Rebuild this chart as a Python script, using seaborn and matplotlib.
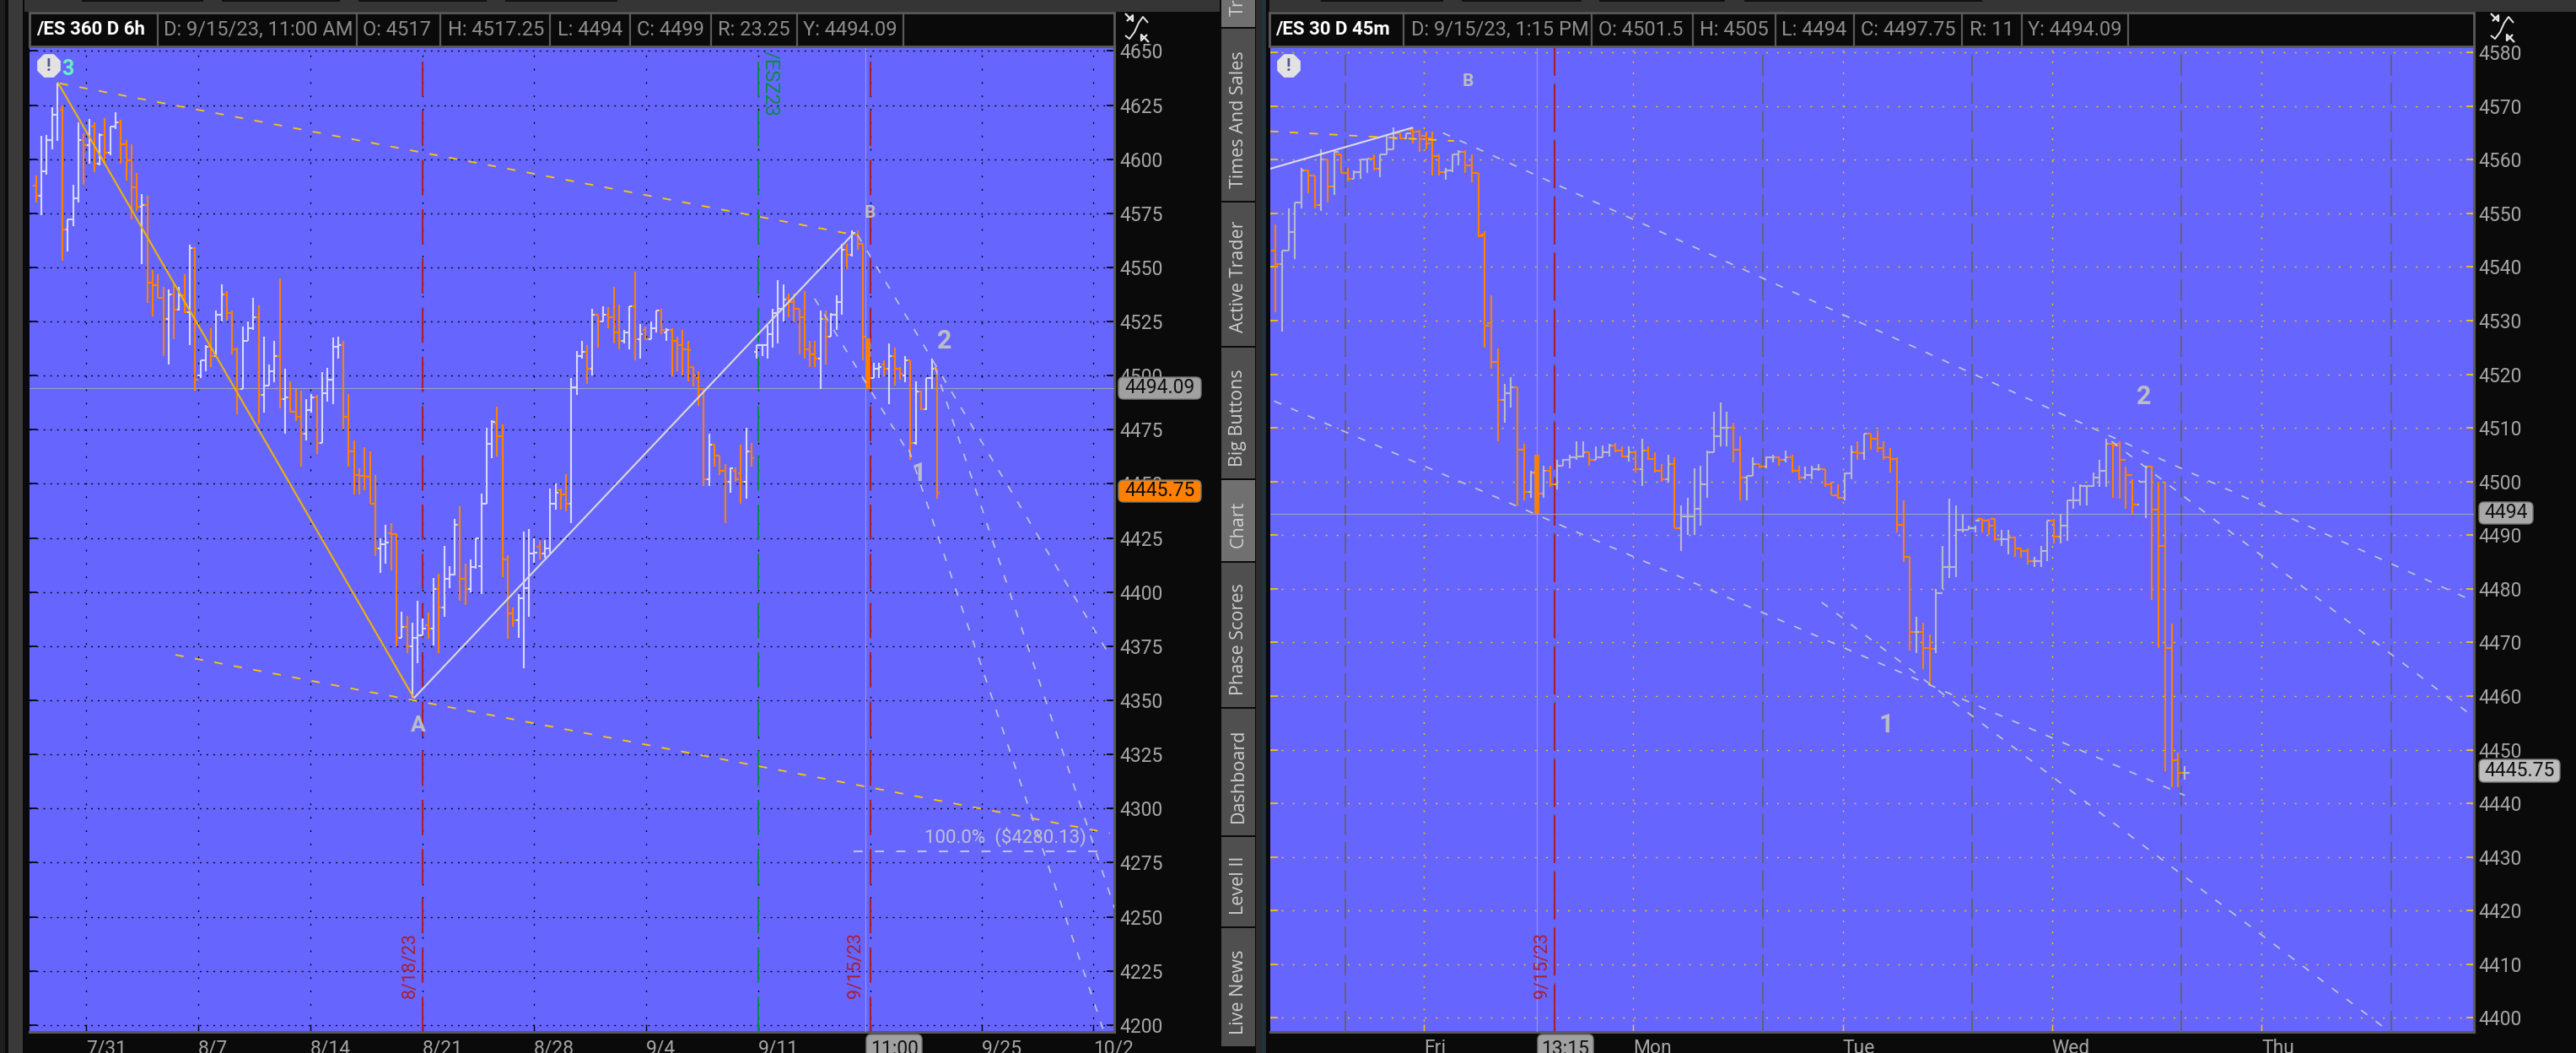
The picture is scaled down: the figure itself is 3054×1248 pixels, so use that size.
# -*- coding: utf-8 -*-
"""
Two /ES futures bar charts side by side (6h and 45m), thinkorswim dark layout.
"""
import matplotlib
matplotlib.use("Agg")
import matplotlib.pyplot as plt
from matplotlib.patches import Rectangle, FancyBboxPatch, RegularPolygon
import pandas as pd
import seaborn as sns

W, H = 3054, 1248
BLUE = "#6666ff"
BLACK = "#0a0a0a"
CHROME = "#353535"
ORANGE = "#ff8000"
GRAY_TXT = "#a6a6a6"
LABEL_GRAY = "#bcbcc4"
RED = "#a81e32"
GREEN = "#0c8a4a"
YELLOW = "#ffc800"

# ========== left chart: /ES 360 D 6h ==========
L_OPEN = [
    4587.75, 4583, 4594.5, 4609, 4620.5, 4623, 4567.5, 4572, 4582, 4609,
    4606.5, 4615, 4597.75, 4611, 4603, 4615, 4617, 4607, 4599.5, 4587,
    4578, 4579, 4543, 4541.75, 4536, 4526, 4537.5, 4530.5, 4537, 4529.25,
    4559, 4500, 4507, 4513.5, 4509, 4528, 4537.5, 4529, 4512, 4494,
    4516, 4522, 4527, 4491, 4495.5, 4502, 4509, 4489, 4490, 4483.5,
    4481, 4473, 4484, 4490, 4469, 4492, 4498, 4513.5, 4514, 4481,
    4465, 4454, 4453.5, 4453.25, 4441, 4420, 4422, 4427, 4426.75, 4379,
    4384, 4375, 4379, 4380, 4384.5, 4383, 4401.5, 4393, 4406, 4408,
    4431, 4406, 4401.5, 4411.5, 4412, 4441, 4468.5, 4478, 4472, 4415,
    4390, 4387, 4397, 4402, 4418, 4421, 4418, 4420, 4440.75, 4447,
    4445, 4441, 4494.75, 4509, 4511, 4503, 4528, 4525, 4528, 4527,
    4520, 4516, 4520, 4532, 4517, 4521, 4517, 4522, 4530, 4520,
    4521, 4516, 4514, 4512, 4504, 4499, 4494, 4452, 4468, 4463,
    4456, 4451, 4456, 4455, 4451, 4465, 4511, 4514, 4514, 4519,
    4529, 4531, 4536, 4534, 4531, 4527, 4512, 4510, 4508, 4526,
    4518, 4528, 4534, 4558, 4556, 4565, 4561, 4517, 4499, 4503,
    4505, 4503, 4509, 4503, 4500, 4507, 4469, 4492.5, 4484.5, 4499,
    4503,
]
L_HIGH = [
    4592.5, 4610.75, 4611, 4624, 4635.5, 4625, 4572, 4588, 4617, 4612,
    4618.5, 4617, 4612, 4619, 4615, 4621.5, 4618, 4609, 4607, 4593.5,
    4584, 4583, 4548.75, 4547, 4541, 4540, 4543, 4541, 4547, 4560.5,
    4559.5, 4507, 4514, 4522, 4530, 4542, 4539, 4530, 4513, 4522.5,
    4525, 4536, 4532.5, 4518, 4505, 4516, 4545, 4503, 4497.5, 4494,
    4493, 4489, 4491.5, 4491, 4501.5, 4503.5, 4517.5, 4518, 4516, 4491.5,
    4470, 4457, 4467, 4465, 4454, 4425, 4431, 4432, 4427, 4391,
    4389, 4386, 4396, 4388, 4390.5, 4406.5, 4408.5, 4421.5, 4412, 4434,
    4439.5, 4413, 4415, 4425, 4445.5, 4476, 4479.5, 4485.75, 4477.5, 4417,
    4393, 4399, 4428, 4429, 4425, 4423.5, 4424, 4448, 4450, 4448,
    4454.5, 4499, 4511.5, 4516, 4514, 4531, 4528.25, 4532, 4531.5, 4541,
    4533, 4521, 4532, 4548, 4524, 4522.5, 4525, 4530, 4531, 4522,
    4522, 4518, 4521, 4516, 4504, 4502, 4494, 4473, 4468, 4463,
    4459, 4457.5, 4457.5, 4468, 4476, 4469, 4514, 4514, 4523, 4531,
    4544, 4542, 4538, 4538, 4531, 4539, 4516, 4516, 4530, 4530,
    4529, 4537, 4561, 4561, 4567, 4567, 4561, 4517.25, 4506, 4506,
    4507, 4515, 4513, 4504, 4509, 4507, 4497.5, 4493, 4499, 4508,
    4503,
]
L_LOW = [
    4580, 4574, 4593, 4604.5, 4608.5, 4553, 4557.5, 4569, 4580, 4588,
    4598, 4594, 4597, 4598, 4602, 4614, 4598, 4590, 4572, 4576,
    4551.5, 4533.5, 4527.5, 4536, 4509, 4505, 4517, 4530, 4529, 4514,
    4493, 4499, 4502, 4504, 4508.5, 4525, 4525.5, 4510, 4482, 4494,
    4516, 4521, 4478, 4483, 4495.5, 4497, 4485, 4473, 4483, 4479,
    4458, 4470, 4483, 4464, 4469, 4488, 4487, 4508, 4475, 4458,
    4445, 4445, 4447, 4441, 4416.75, 4409, 4413, 4410, 4375, 4379,
    4372, 4351, 4367, 4380, 4378.5, 4375.5, 4372, 4388.75, 4402, 4407.5,
    4396, 4394, 4400, 4411, 4399, 4441, 4462, 4462.5, 4406.75, 4378.5,
    4384, 4379, 4365, 4388.5, 4413.5, 4415, 4416, 4418, 4438, 4438,
    4437.5, 4432, 4491, 4508, 4496, 4500, 4513, 4525, 4522, 4515,
    4512, 4515, 4512, 4507, 4508, 4516.5, 4517, 4520, 4519, 4516,
    4499.5, 4502, 4500, 4497.5, 4495, 4486, 4449, 4449, 4458, 4454,
    4432, 4446, 4451, 4441, 4443, 4458, 4508, 4509, 4508, 4513,
    4515, 4525, 4527, 4525, 4510, 4508, 4504, 4504, 4494, 4505,
    4518, 4521, 4528, 4549, 4555, 4558, 4507, 4494, 4499, 4499,
    4499.5, 4487, 4495.5, 4498, 4497, 4461, 4468, 4484, 4484, 4494,
    4443,
]
L_CLOSE = [
    4583, 4594.5, 4609, 4620.5, 4634, 4567.5, 4572, 4582, 4609, 4606.5,
    4609, 4597.75, 4611, 4603, 4615, 4617, 4607, 4599.5, 4587, 4578,
    4579, 4543, 4541.75, 4536, 4526, 4537.5, 4530.5, 4537, 4529.25, 4559,
    4498, 4507, 4513.5, 4509, 4528, 4537.5, 4529, 4512, 4494, 4516,
    4522, 4527, 4491, 4495.5, 4502, 4509, 4489, 4490, 4483.5, 4481,
    4473, 4484, 4490, 4469, 4492, 4498, 4513.5, 4514, 4481, 4465,
    4454, 4453.5, 4453.25, 4441, 4420, 4422, 4423, 4426.75, 4379, 4384,
    4375, 4379, 4380, 4383, 4383, 4401.5, 4393, 4406, 4408, 4431,
    4406, 4401.5, 4411.5, 4425, 4441, 4468.5, 4478.5, 4472, 4415, 4390,
    4387, 4397, 4402, 4418, 4418.25, 4418, 4420, 4440.75, 4446, 4445,
    4441, 4494.75, 4509, 4511, 4503, 4528, 4525, 4528, 4527, 4520,
    4516, 4520, 4532, 4517, 4519, 4517, 4522, 4530, 4521, 4521,
    4516, 4514, 4512, 4511.75, 4500, 4494, 4452, 4468, 4463, 4456,
    4451, 4457, 4452, 4451, 4465, 4462, 4514, 4514, 4519, 4529,
    4531, 4535, 4534, 4531, 4527, 4512, 4510, 4508, 4526, 4518,
    4528, 4534, 4558, 4556, 4566, 4561, 4518, 4499, 4503, 4504,
    4503, 4509, 4503, 4501, 4507, 4469, 4492.5, 4484.5, 4499, 4503,
    4445.75,
]
L_SELECTED = 157

L_Y_TICKS = [4200, 4225, 4250, 4275, 4300, 4325, 4350, 4375, 4400, 4425,
             4450, 4475, 4500, 4525, 4550, 4575, 4600, 4625, 4650]
L_X_TICKS = [9.44, 30.56, 51.8, 72.9, 93.9, 115.1, 136.2, 157.5, 178.5, 199.5]
L_X_LABELS = ["7/31", "8/7", "8/14", "8/21", "8/28", "9/4", "9/11", "", "9/25", "10/2"]

# swing points and channel lines, (bar, price) pairs
L_SWING_DOWN_X, L_SWING_DOWN_Y = [4.1, 71.3], [4635.5, 4351]
L_SWING_UP_X, L_SWING_UP_Y = [71.3, 154.2], [4351, 4565.6]
L_UPPER_X, L_UPPER_Y = [4.5, 154.5], [4635, 4565]
L_LOWER_X, L_LOWER_Y = [26.3, 202.6], [4371, 4288.6]
L_FANS_X = [[155, 202.5], [146.9, 165.1], [164.7, 201.4], [169.6, 203.5]]
L_FANS_Y = [[4565, 4371], [4535.6, 4462.4], [4465.8, 4197.5], [4504, 4254]]
L_TARGET_X, L_TARGET_Y = [154.3, 201.7], [4280.13, 4280.13]

# ========== right chart: /ES 30 D 45m ==========
R_OPEN = [
    4543, 4540.5, 4543, 4546.5, 4552, 4558, 4557, 4551.5, 4560, 4555,
    4561, 4557.5, 4556.5, 4557.75, 4560, 4560.25, 4558.25, 4561, 4562, 4565,
    4564, 4565.5, 4565.25, 4564.5, 4564, 4560.75, 4557.75, 4558, 4561, 4561.5,
    4559, 4557.5, 4546, 4529.5, 4522.25, 4515.25, 4516.5, 4517.5, 4506, 4498,
    4501.5, 4497.75, 4502, 4499.5, 4503, 4504, 4504.5, 4504.75, 4505.5, 4504,
    4504.5, 4505.5, 4506.75, 4505.75, 4504.75, 4505.5, 4502.25, 4505.75, 4504.25, 4502,
    4500.5, 4503.25, 4491.25, 4493.5, 4493.5, 4495, 4499.5, 4505.5, 4508.5, 4510,
    4510, 4506, 4500.75, 4501, 4503.25, 4502.75, 4504.5, 4504.5, 4504, 4504.5,
    4502, 4500.75, 4501.25, 4502.25, 4502.25, 4499.5, 4497.5, 4497, 4501.5, 4505.5,
    4505.25, 4509, 4508, 4506.25, 4504.5, 4504.25, 4492, 4486, 4472, 4472,
    4469, 4468.75, 4479.25, 4484, 4484, 4491, 4491, 4491.25, 4493, 4492.75,
    4493, 4489.25, 4489.25, 4489.5, 4487.5, 4487, 4485.25, 4485.25, 4487, 4492.75,
    4489.75, 4491.75, 4496.5, 4496.5, 4499.25, 4499.25, 4500.75, 4502, 4507, 4507,
    4504, 4501.25, 4495.75, 4500, 4502.75, 4494.75, 4488, 4469, 4448, 4445.75,
]
R_HIGH = [
    4548, 4543, 4551, 4552, 4558.5, 4558, 4557, 4562, 4560, 4562,
    4561, 4558.5, 4558, 4560, 4560.25, 4561, 4561, 4564.5, 4566, 4565,
    4565, 4566, 4565.5, 4565.25, 4565.25, 4561, 4558.5, 4561, 4561.75, 4561.75,
    4561, 4557.5, 4546.75, 4534.75, 4524.75, 4518.25, 4519.5, 4517.5, 4507, 4502,
    4505, 4503, 4503, 4504, 4504.25, 4505, 4507.5, 4507.5, 4505.5, 4506.5,
    4506.75, 4507, 4507.25, 4506.5, 4506.5, 4505.75, 4508, 4506.5, 4505.5, 4503.25,
    4505, 4504.5, 4495.5, 4497, 4502.5, 4503, 4505.75, 4513, 4514.75, 4513,
    4511, 4508.5, 4501, 4504.5, 4503.25, 4504.75, 4505, 4504.75, 4505.75, 4505,
    4503, 4502.75, 4503, 4503.25, 4502.25, 4500, 4499.5, 4501.75, 4506.75, 4507.5,
    4509, 4509, 4509.5, 4507.5, 4506.25, 4504.5, 4496.5, 4486, 4474.75, 4473.75,
    4471.5, 4480, 4488, 4496.75, 4495.5, 4494, 4491.75, 4491.75, 4493, 4493,
    4493, 4491, 4491, 4489.75, 4487.5, 4487.5, 4486, 4488, 4492.75, 4493,
    4494, 4496.5, 4499, 4499.5, 4499.25, 4501.75, 4504, 4508, 4507.5, 4507.5,
    4502.75, 4500.5, 4500.25, 4503, 4503, 4500, 4500, 4473.5, 4449.5, 4447,
]
R_LOW = [
    4531.5, 4528, 4543, 4541.5, 4551, 4553.75, 4551, 4550.5, 4552, 4553.5,
    4557.5, 4556, 4556.5, 4556.5, 4557.5, 4558, 4556.75, 4561, 4562, 4564,
    4563.75, 4563, 4561.5, 4562, 4557, 4557, 4556.25, 4557.75, 4559, 4557.5,
    4555.75, 4545.5, 4525, 4521, 4507.5, 4511, 4513.75, 4495.5, 4496.5, 4497,
    4494, 4497, 4499, 4498.5, 4503, 4502.5, 4504, 4504.5, 4503, 4504,
    4504.5, 4504.75, 4505.5, 4504.5, 4503.75, 4501.75, 4499.25, 4504, 4501.75, 4500,
    4500, 4491.25, 4487, 4490, 4490, 4491.75, 4497, 4505.5, 4506.5, 4506.5,
    4503.5, 4496.5, 4496.5, 4501, 4502.5, 4502.5, 4503.5, 4503, 4503.5, 4501.75,
    4500.25, 4500.5, 4500.5, 4502, 4499, 4497.5, 4496.75, 4496.5, 4500.5, 4504,
    4504, 4506, 4505.5, 4504, 4501.75, 4490.5, 4485, 4468.5, 4468, 4465,
    4462, 4468, 4480, 4482, 4482.25, 4490.5, 4491, 4490.5, 4490.5, 4490,
    4489, 4488, 4486.5, 4486, 4485.75, 4484.5, 4484, 4484, 4485.25, 4488.5,
    4488.5, 4489, 4495, 4495.5, 4495.5, 4499, 4499, 4499, 4497, 4496.75,
    4495, 4494, 4500, 4493.25, 4478, 4469, 4446, 4443, 4443, 4444.5,
]
R_CLOSE = [
    4540.5, 4543, 4546.5, 4552, 4558, 4557, 4551.5, 4560, 4555, 4561.5,
    4557.5, 4556.5, 4557.75, 4560, 4560.25, 4558.25, 4561, 4562, 4564, 4564,
    4565, 4565.25, 4563.75, 4563, 4560.75, 4557.75, 4558, 4561, 4561.5, 4559,
    4557.5, 4545.75, 4529, 4522.25, 4515.25, 4516.5, 4517.5, 4506, 4498, 4501.75,
    4497.75, 4502, 4499.5, 4503, 4504, 4504.5, 4504.75, 4505.5, 4504, 4504.5,
    4505.5, 4506.75, 4505.75, 4504.75, 4505.5, 4502.25, 4505.75, 4504.25, 4502, 4500.5,
    4503.25, 4491.25, 4493.5, 4493.5, 4495, 4499.5, 4505.5, 4508.5, 4510, 4510,
    4506, 4500.75, 4501, 4503.25, 4502.75, 4504.5, 4504.5, 4504, 4504.5, 4502,
    4500.75, 4501.25, 4502.25, 4502.25, 4499.5, 4497.5, 4497, 4501.5, 4505.5, 4505.25,
    4509, 4508, 4506.25, 4504.5, 4504.25, 4492, 4486, 4472, 4472, 4469,
    4468.75, 4479.25, 4484, 4484, 4491, 4491, 4491.25, 4492.75, 4492.75, 4491.75,
    4489.25, 4489.25, 4489.5, 4487.5, 4487, 4485.25, 4485.25, 4487, 4492.75, 4489.75,
    4491.75, 4496.5, 4496.5, 4499.25, 4499.25, 4500.75, 4502, 4507, 4506.75, 4504,
    4501.25, 4495.75, 4500, 4502.75, 4494.75, 4488, 4469, 4448, 4445.75, 4445.75,
]
R_SELECTED = 40

R_Y_TICKS = list(range(4400, 4581, 10))
R_X_TICKS = [22.67, 54.7, 86.7, 118.7, 150.7]
R_X_LABELS = ["Fri", "Mon", "Tue", "Wed", "Thu"]
R_SESSIONS = [10.68, 74.5, 106.5, 138.5, 170.5]

R_SWING_X, R_SWING_Y = [-0.85, 21], [4558.3, 4566]
R_UPPER_X, R_UPPER_Y = [-0.85, 27.3], [4565.3, 4563.5]
R_FANS_X = [[25.6, 182.6], [127.8, 182.2], [-0.2, 139], [83.5, 169.7]]
R_FANS_Y = [[4565, 4478], [4507.5, 4457], [4515, 4441.5], [4477.5, 4398]]

# last price / study line
STUDY_Y = 4494.09


def px_axes(fig, left, top, right, bottom):
    return fig.add_axes([left / W, 1 - bottom / H, (right - left) / W, (bottom - top) / H])


def ohlc_frame(opens, highs, lows, closes, half):
    rows = []
    for i in range(len(opens)):
        kind = "up" if closes[i] >= opens[i] else "down"
        rows.append((3 * i, i, highs[i], kind))
        rows.append((3 * i, i, lows[i], kind))
        rows.append((3 * i + 1, i - half, opens[i], kind))
        rows.append((3 * i + 1, i, opens[i], kind))
        rows.append((3 * i + 2, i, closes[i], kind))
        rows.append((3 * i + 2, i + half, closes[i], kind))
    return pd.DataFrame(rows, columns=["unit", "x", "price", "kind"])


def draw_bars(ax, opens, highs, lows, closes, selected, up_color, half):
    frame = ohlc_frame(opens, highs, lows, closes, half)
    sns.lineplot(data=frame, x="x", y="price", hue="kind", units="unit", estimator=None,
                 sort=False, legend=False, linewidth=1.5, ax=ax, zorder=4,
                 hue_order=["up", "down"], palette={"up": up_color, "down": ORANGE})
    # the bar under the crosshair is drawn heavy
    sns.lineplot(x=[selected, selected], y=[lows[selected], highs[selected]], color=ORANGE,
                 estimator=None, sort=False, linewidth=4, ax=ax, zorder=5)


def draw_trend(ax, xs, ys, color, dashed=True, lw=1.3):
    style = (0, (5.5, 7.5)) if dashed else "-"
    sns.lineplot(x=xs, y=ys, color=color, estimator=None, sort=False,
                 linewidth=lw, linestyle=style, ax=ax, zorder=6)


def style_axes(ax, xlim, ylim, yticks, xticks, xlabels, grid_color, tick_color, v_dash, h_dash):
    ax.set_xlim(*xlim)
    ax.set_ylim(*ylim)
    ax.set_xlabel("")
    ax.set_ylabel("")
    ax.set_facecolor(BLUE)
    ax.set_yticks(yticks)
    ax.set_xticks(xticks)
    ax.set_xticklabels(xlabels, ha="left")
    ax.yaxis.tick_right()
    ax.tick_params(axis="y", which="both", direction="in", length=6.5, width=1.2, left=True,
                   right=True, labelright=True, labelleft=False, colors=GRAY_TXT,
                   color=tick_color, labelsize=16.5, pad=4)
    ax.tick_params(axis="x", direction="in", length=6.5, width=1.0, bottom=True,
                   colors=GRAY_TXT, color=tick_color, labelsize=16.5, pad=6)
    ax.grid(True, axis="x", color=grid_color, linewidth=1.0, linestyle=v_dash)
    ax.grid(True, axis="y", color=grid_color, linewidth=1.0, linestyle=h_dash)
    ax.set_axisbelow(True)
    for side, spine in ax.spines.items():
        spine.set_color("#5a5a5a")
        spine.set_linewidth(2.2)
        spine.set_visible(side in ("right", "bottom"))


def draw_header(ov, left, right, cells, seps, texts):
    ov.add_patch(Rectangle((left, 15), right - left, 40, fc=BLACK, ec="#5a5a5a", lw=2))
    for x in seps:
        ov.plot([x, x], [15, 55], color="#5a5a5a", lw=1.6)
    for i, (x, txt) in enumerate(zip(cells, texts)):
        ov.text(x, 35, txt, color="white" if i == 0 else "#8c8c8c",
                fontsize=16 if i == 0 else 17,
                fontweight="bold" if i == 0 else "normal", va="center", ha="left")


def draw_badge(ov, left, right, top, bottom, txt, fc, size=16.5):
    ov.add_patch(FancyBboxPatch((left + 4, top + 4), right - left - 8, bottom - top - 8,
                                boxstyle="round,pad=4,rounding_size=6", fc=fc, ec="#777777", lw=1))
    ov.text((left + right) / 2, (top + bottom) / 2, txt, color="#101010", fontsize=size,
            ha="center", va="center")


def draw_alert(ov, x, y):
    ov.add_patch(RegularPolygon((x, y), 8, radius=15, orientation=0.39, fc="#e2e2e2", ec="none"))
    ov.text(x, y, "!", color="#55558a", fontsize=15, fontweight="bold", ha="center", va="center")


def draw_sync_icon(ov, x, y):
    curve_x = [x - 14, x - 9, x - 3, x + 2, x + 7, x + 13]
    curve_y = [y + 9, y + 13, y + 5, y - 6, y - 13, y - 6]
    ov.plot(curve_x, curve_y, color="#e6e6e6", lw=1.4)
    ov.plot([x - 14, x - 5, x - 5, x - 12], [y - 17, y - 8, y - 15, y - 8], color="#e6e6e6", lw=1.6)
    ov.plot([x + 14, x + 5, x + 5, x + 12], [y + 17, y + 8, y + 15, y + 8], color="#e6e6e6", lw=1.6)


def draw_chrome(bg):
    bg.add_patch(Rectangle((10, 0), 17, H, fc="#3a3a3a", ec="none"))
    bg.add_patch(Rectangle((0, 0), 6, H, fc="#1e1e1e", ec="none"))
    bg.add_patch(Rectangle((29, 0), 1417, 14, fc=CHROME, ec="none"))
    bg.add_patch(Rectangle((1505, 0), W - 1505, 14, fc=CHROME, ec="none"))
    bg.add_patch(Rectangle((1489, 0), 12, H, fc="#2c2c2c", ec="none"))
    bg.plot([1498, 1498], [0, H], color="#123a4a", lw=1.5)
    for x0, x1 in [(97, 241), (263, 403), (425, 577), (599, 732),
                   (1566, 1711), (1733, 1875), (1896, 2045), (2068, 2350)]:
        bg.add_patch(Rectangle((x0, 0), x1 - x0, 2, fc="#101010", ec="none"))
    tabs = [(0, 32, "#707070"), (34, 238, "#4f4f4f"), (240, 410, "#4f4f4f"),
            (412, 567, "#4f4f4f"), (569, 665, "#707070"), (667, 838, "#4f4f4f"),
            (840, 990, "#4f4f4f"), (992, 1098, "#4f4f4f"), (1100, 1240, "#4f4f4f")]
    for y0, y1, color in tabs:
        bg.add_patch(Rectangle((1448, y0), 40, y1 - y0, fc=color, ec="none"))


def draw_tabs(ov):
    tab_text = [("Tr", 9), ("Times And Sales", 142), ("Active Trader", 328), ("Big Buttons", 495),
                ("Chart", 621), ("Phase Scores", 758), ("Dashboard", 919),
                ("Level II", 1049), ("Live News", 1176)]
    for name, y in tab_text:
        ov.text(1468, y, name, color="#d0d0d0", fontsize=15.5, rotation=90,
                ha="center", va="center", family="Open Sans")


sns.set_theme(style="dark", rc={"lines.solid_capstyle": "butt", "lines.dash_capstyle": "butt",
                                "figure.facecolor": BLACK, "savefig.facecolor": BLACK})
plt.rcParams["font.family"] = ["Roboto", "DejaVu Sans"]

fig = plt.figure(figsize=(W / 100, H / 100), dpi=100)

bg = px_axes(fig, 0, 0, W, H)
bg.set_xlim(0, W)
bg.set_ylim(H, 0)
bg.axis("off")
bg.set_zorder(0)
draw_chrome(bg)

# ========== left panel ==========
ax_l = px_axes(fig, 35, 55, 1321.4, 1223)
ax_l.set_zorder(2)
draw_bars(ax_l, L_OPEN, L_HIGH, L_LOW, L_CLOSE, L_SELECTED, "#d8d8ff", 0.55)
draw_trend(ax_l, L_SWING_DOWN_X, L_SWING_DOWN_Y, "#f0b400", dashed=False, lw=1.5)
draw_trend(ax_l, L_SWING_UP_X, L_SWING_UP_Y, "#d9d9d9", dashed=False, lw=1.5)
draw_trend(ax_l, L_UPPER_X, L_UPPER_Y, YELLOW)
draw_trend(ax_l, L_LOWER_X, L_LOWER_Y, YELLOW)
for fan_x, fan_y in zip(L_FANS_X, L_FANS_Y):
    draw_trend(ax_l, fan_x, fan_y, "#c4c4d0", lw=1.2)
draw_trend(ax_l, L_TARGET_X, L_TARGET_Y, "#c4c4d0", lw=1.4)
ax_l.axvline(72.9, color=RED, lw=1.5, linestyle=(0, (20, 8)), zorder=3)
ax_l.axvline(157.5, color=RED, lw=1.5, linestyle=(0, (20, 8)), zorder=3)
ax_l.axvline(136.2, color=GREEN, lw=1.5, linestyle=(0, (20, 8)), zorder=3)
ax_l.axvline(L_SELECTED - 0.5, color="#9c9ce0", lw=0.7, zorder=3)
ax_l.axhline(STUDY_Y, color="#a5a5c0", lw=0.7, zorder=3)
style_axes(ax_l, (-1.23, 203.5), (4196.8, 4652.1), L_Y_TICKS, L_X_TICKS, L_X_LABELS,
           "#000000", "#000000", (0, (1.4, 10)), (0, (1.4, 4.4)))

# ========== right panel ==========
ax_r = px_axes(fig, 1505.6, 55.8, 2933, 1223)
ax_r.set_zorder(2)
draw_bars(ax_r, R_OPEN, R_HIGH, R_LOW, R_CLOSE, R_SELECTED, "#b9b9c6", 0.7)
draw_trend(ax_r, R_SWING_X, R_SWING_Y, "#dcdce6", dashed=False, lw=1.5)
draw_trend(ax_r, R_UPPER_X, R_UPPER_Y, YELLOW)
for fan_x, fan_y in zip(R_FANS_X, R_FANS_Y):
    draw_trend(ax_r, fan_x, fan_y, "#c4c4d0", lw=1.2)
for session in R_SESSIONS + [42.6]:
    ax_r.axvline(session, color="#62627a", lw=1.5, linestyle=(0, (12, 4)), zorder=3)
ax_r.axvline(42.6, color=RED, lw=1.5, linestyle=(0, (27, 5)), zorder=3)
ax_r.axvline(R_SELECTED, color="#9c9ce0", lw=0.7, zorder=3)
ax_r.axhline(4494, color="#a5a5c0", lw=0.7, zorder=3)
style_axes(ax_r, (-0.85, 183.2), (4397.4, 4581), R_Y_TICKS, R_X_TICKS, R_X_LABELS,
           YELLOW, YELLOW, (0, (1.4, 8)), (0, (1.4, 8)))

# ========== header bars, badges, labels in screen pixels ==========
ov = px_axes(fig, 0, 0, W, H)
ov.set_xlim(0, W)
ov.set_ylim(H, 0)
ov.axis("off")
ov.set_zorder(5)
ov.patch.set_alpha(0)

draw_header(ov, 35, 1321, [43, 194, 430, 531, 661, 755, 851, 952],
            [187, 423, 522, 652, 747, 843, 945, 1071],
            ["/ES 360 D 6h", "D: 9/15/23, 11:00 AM", "O: 4517", "H: 4517.25", "L: 4494",
             "C: 4499", "R: 23.25", "Y: 4494.09"])
draw_header(ov, 1505, 2933, [1512, 1673, 1895, 2015, 2112, 2206, 2335, 2404],
            [1664, 1887, 2007, 2105, 2198, 2326, 2397, 2523],
            ["/ES 30 D 45m", "D: 9/15/23, 1:15 PM", "O: 4501.5", "H: 4505", "L: 4494",
             "C: 4497.75", "R: 11", "Y: 4494.09"])
draw_tabs(ov)
draw_alert(ov, 58, 78)
draw_alert(ov, 1528, 78)
draw_sync_icon(ov, 1348, 33)
draw_sync_icon(ov, 2967, 33)

draw_badge(ov, 1326, 1424, 447, 473, "4494.09", "#a0a0a0")
draw_badge(ov, 1326, 1424, 569, 595, "4445.75", "#ff8000")
draw_badge(ov, 2939, 3003, 595, 621, "4494", "#a8a8a8")
draw_badge(ov, 2939, 3035, 900, 927, "4445.75", "#bdbdbd")
draw_badge(ov, 1027, 1093, 1226, 1262, "11:00", "#a0a0a0")
draw_badge(ov, 1823, 1889, 1226, 1262, "13:15", "#a0a0a0")

ov.text(80, 82, "3", color="#66f0c0", fontsize=18, fontweight="bold", ha="center", va="center")
for x, y, txt, size in [(1031, 253, "B", 15), (496, 860, "A", 19), (1120, 404, "2", 22),
                        (1089, 561, "1", 22), (1740, 97, "B", 15), (2542, 470, "2", 22),
                        (2236, 859, "1", 22)]:
    ov.text(x, y, txt, color=LABEL_GRAY, fontsize=size, fontweight="bold", ha="center", va="center")

ov.text(1192, 992, "100.0%  ($4280.13)", color="#c0c0cc", fontsize=16, ha="center", va="center")
ov.text(486, 1144, "8/18/23", color=RED, fontsize=15.5, rotation=90, ha="center", va="center")
ov.text(1015, 1144, "9/15/23", color=RED, fontsize=15.5, rotation=90, ha="center", va="center")
ov.text(1828, 1144, "9/15/23", color=RED, fontsize=15.5, rotation=90, ha="center", va="center")
ov.text(914, 99, "/ESZ23", color=GREEN, fontsize=17, rotation=270, ha="center", va="center")

fig.savefig("out.png", dpi=100)
plt.close(fig)
